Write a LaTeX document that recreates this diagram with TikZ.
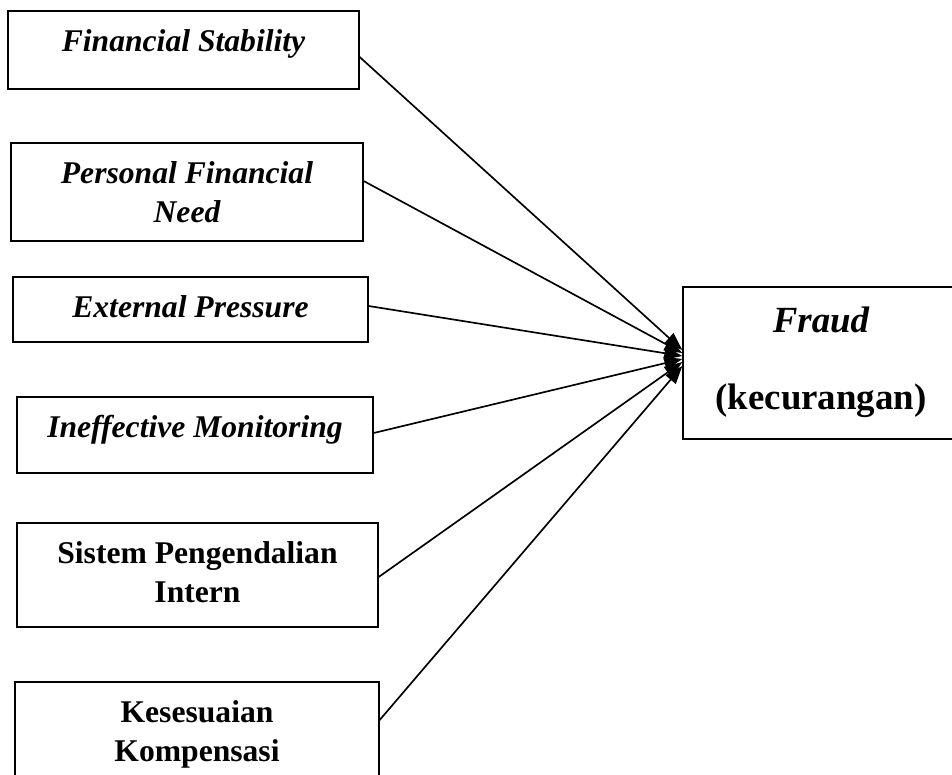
\documentclass[tikz,border=0pt]{standalone}
\usepackage{fontspec}
\setmainfont{Liberation Serif}
\usetikzlibrary{arrows.meta,positioning}

\begin{document}
\begin{tikzpicture}[x=0.02cm, y=-0.02cm,
    varbox/.style={draw, line width=0.8pt, inner sep=0pt},
    lbl/.style={anchor=north, align=center, inner sep=0pt,
        font=\fontsize{18}{22}\selectfont\bfseries},
    link/.style={line width=0.95pt, -{Triangle[length=0.36cm, width=0.26cm]}}]
    \useasboundingbox (0,0) rectangle (952,774);

    % variabel independen
    \node[varbox, minimum width=7.02cm, minimum height=1.56cm] (fs) at (183.5,50) {};
    \node[varbox, minimum width=7.04cm, minimum height=1.96cm] (pfn) at (187,192) {};
    \node[varbox, minimum width=7.10cm, minimum height=1.30cm] (ep) at (190.5,309.5) {};
    \node[varbox, minimum width=7.12cm, minimum height=1.52cm] (im) at (195,435) {};
    \node[varbox, minimum width=7.22cm, minimum height=2.08cm] (spi) at (197.5,575) {};
    \node[varbox, minimum width=7.28cm, minimum height=2.36cm] (kk) at (197,741) {};

    \node[lbl] (fs-t) at ([yshift=-0.38cm]fs.north) {\itshape Financial Stability};
    \node[lbl] (pfn-t) at ([yshift=-0.38cm]pfn.north) {\itshape Personal Financial\\\itshape Need};
    \node[lbl] (ep-t) at ([yshift=-0.38cm]ep.north) {\itshape External Pressure};
    \node[lbl] (im-t) at ([yshift=-0.38cm]im.north) {\itshape Ineffective Monitoring};
    \node[lbl] (spi-t) at ([yshift=-0.38cm]spi.north) {Sistem Pengendalian\\Intern};
    \node[lbl] (kk-t) at ([yshift=-0.38cm]kk.north) {Kesesuaian\\Kompensasi};

    % variabel dependen
    \node[varbox, minimum width=5.52cm, minimum height=3.04cm] (fraud) at (821,363) {};
    \node[lbl, font=\fontsize{21}{44}\selectfont\bfseries] (fraud-t) at ([yshift=-0.4cm]fraud.north)
        {\itshape Fraud\\(kecurangan)};

    \draw[link] ([yshift=-0.14cm]fs.east) -- ([yshift=0.26cm]fraud.west);
    \draw[link] ([yshift=0.22cm]pfn.east) -- ([yshift=0.2cm]fraud.west);
    \draw[link] ([yshift=0.07cm]ep.east) -- ([yshift=0.14cm]fraud.west);
    \draw[link] ([yshift=0.04cm]im.east) -- ([yshift=0.08cm]fraud.west);
    \draw[link] ([yshift=-0.04cm]spi.east) -- ([yshift=0.02cm]fraud.west);
    \draw[link] ([yshift=0.42cm]kk.east) -- ([yshift=-0.06cm]fraud.west);
\end{tikzpicture}
\end{document}
